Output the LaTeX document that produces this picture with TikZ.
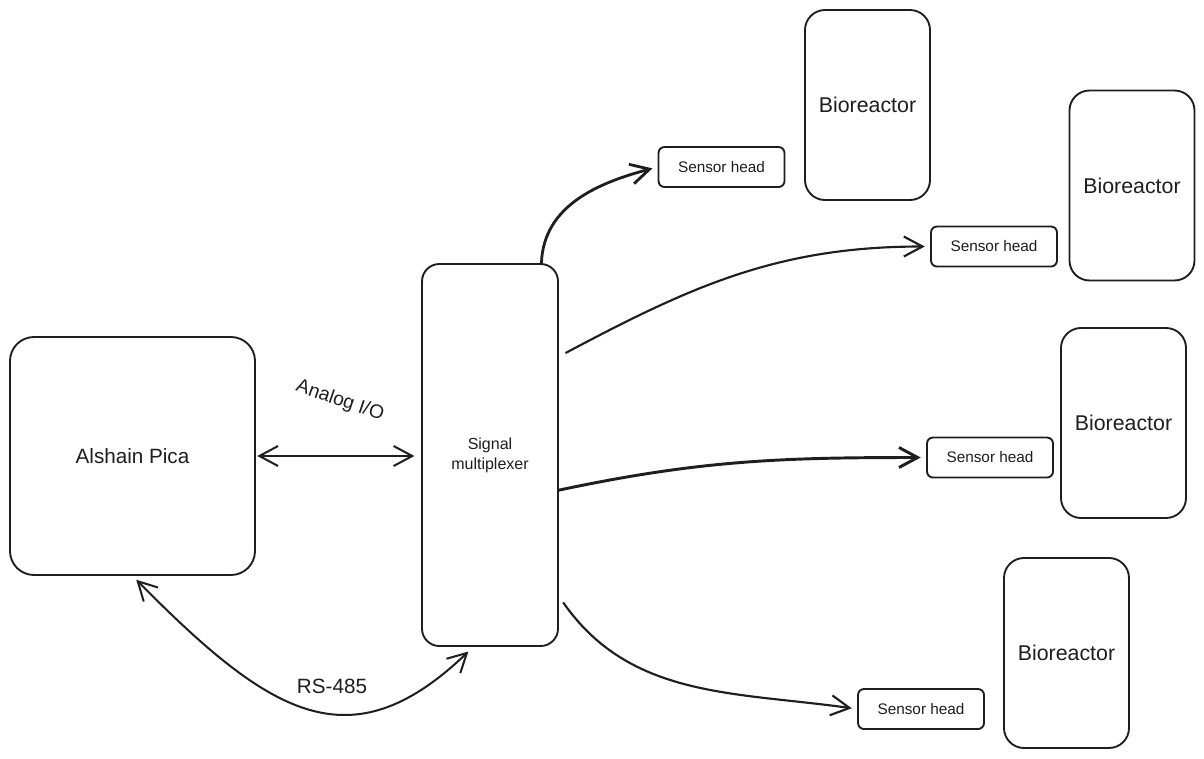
\documentclass[tikz,border=0pt]{standalone}
\usepackage{fontspec}
\setmainfont{Liberation Sans}
\usetikzlibrary{arrows.meta}
\definecolor{tinta}{HTML}{1E1E1E}
\colorlet{colLinea}{tinta}
\colorlet{colTexto}{tinta}
\tikzset{
  cajaBase/.style={
    draw=colLinea, line width=1.4pt, fill=white,
    align=center, text=colTexto, inner sep=2pt
  },
  cajaControl/.style={cajaBase, rounded corners=18pt,
    minimum width=183.75pt, minimum height=178.5pt, font=\fontsize{15.5}{18}\selectfont},
  cajaMux/.style={cajaBase, rounded corners=13pt,
    minimum width=102pt, minimum height=286.5pt, font=\fontsize{12}{15}\selectfont},
  cajaReactor/.style={cajaBase, rounded corners=15pt,
    minimum width=93.75pt, minimum height=142.5pt, font=\fontsize{16}{18}\selectfont},
  cajaSensor/.style={cajaBase, rounded corners=4.5pt,
    minimum width=94.5pt, minimum height=30pt, font=\fontsize{11.5}{13}\selectfont},
  flecha/.style={-{Straight Barb[length=14pt, width=15pt]}, line width=1.6pt,
    colLinea, line cap=round, line join=round, shorten >=4pt},
  flechaDoble/.style={{Straight Barb[length=14pt, width=15pt]}-{Straight Barb[length=14pt, width=15pt]},
    line width=1.5pt, colLinea, line cap=round, line join=round},
  etiquetaFlecha/.style={font=\fontsize{14.5}{16}\selectfont, text=colTexto, inner sep=1pt},
}

\begin{document}
\begin{tikzpicture}[x=0.75pt, y=-0.75pt]
    \useasboundingbox[fill=white] (0,0) rectangle (1204,758);

    \node[cajaControl] (pica) at (132.5,456) {Alshain Pica};
    \node[cajaMux] (mux) at (490,455) {Signal\\multiplexer};

    \node[cajaReactor] (bio1) at (867.5,105) {Bioreactor};
    \node[cajaReactor] (bio2) at (1132,185.5) {Bioreactor};
    \node[cajaReactor] (bio3) at (1123.5,423) {Bioreactor};
    \node[cajaReactor] (bio4) at (1066.5,653) {Bioreactor};

    \node[cajaSensor] (sens1) at (721.5,167) {Sensor head};
    \node[cajaSensor] (sens2) at (994,246.5) {Sensor head};
    \node[cajaSensor] (sens3) at (990,457.5) {Sensor head};
    \node[cajaSensor] (sens4) at (921,709) {Sensor head};

    \draw[flechaDoble, shorten <=1pt, shorten >=5pt] (pica.east) -- (pica.east -| mux.west);
    \node[etiquetaFlecha, rotate=-19] (lblAnalog) at (340,401) {Analog I/O};

    \draw[flechaDoble, shorten <=4pt, shorten >=5pt] (pica.south) .. controls (270,715) and (350,765) .. (mux.-95);
    \node[etiquetaFlecha, font=\fontsize{15.5}{17}\selectfont] (lblRS) at (332,686) {RS-485};

    \draw[flecha, line width=2.1pt] (mux.75) to[out=88, in=195] (sens1.west);
    \draw[flecha, shorten <=6pt] (mux.55) to[out=28, in=180] (sens2.west);
    \draw[flecha, line width=2.2pt] (mux.-27) to[out=12, in=180] (sens3.west);
    \draw[flecha, shorten <=6pt] (mux.-64) to[out=-55, in=172] (sens4.west);
  \end{tikzpicture}
\end{document}
